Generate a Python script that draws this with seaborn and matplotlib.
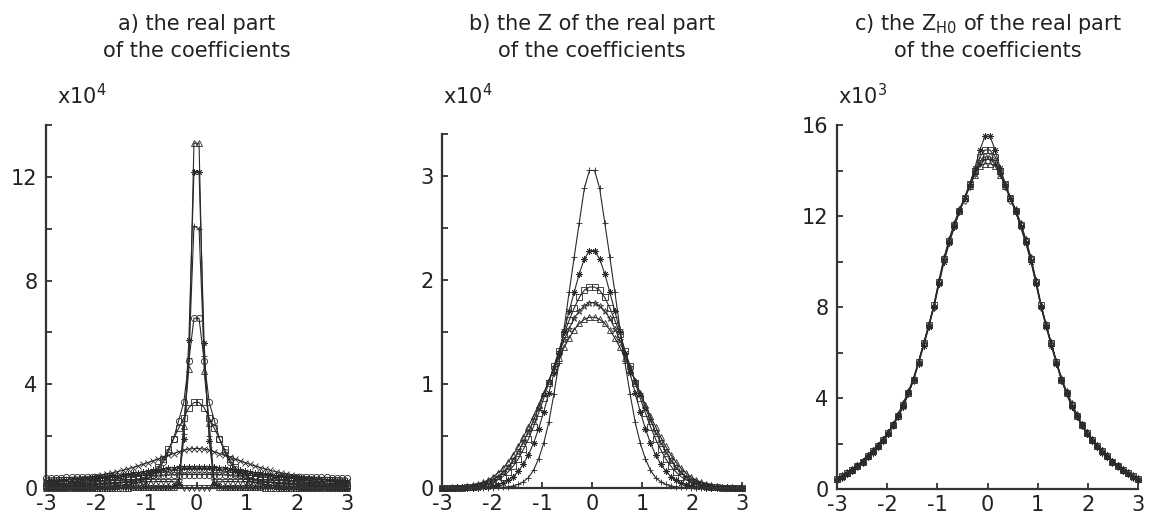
import numpy as np
import matplotlib
matplotlib.use("Agg")
import matplotlib.pyplot as plt
import seaborn as sns

# ---------------- data ----------------
# sample positions (bin centres) shared by every series
x_grid = np.linspace(-3, 3, 60)

# panel a: real part of the coefficients (x10^4)
a_tri = [
    0.00, 0.00, 0.00, 0.01, 0.01, 0.01, 0.01, 0.01, 0.01, 0.01,
    0.01, 0.01, 0.01, 0.01, 0.01, 0.01, 0.01, 0.02, 0.02, 0.02,
    0.02, 0.02, 0.03, 0.03, 0.04, 0.05, 0.11, 2.40, 4.60, 13.3,
    13.3, 4.50, 2.50, 0.12, 0.05, 0.04, 0.03, 0.03, 0.02, 0.02,
    0.02, 0.02, 0.02, 0.01, 0.01, 0.01, 0.01, 0.01, 0.01, 0.01,
    0.01, 0.01, 0.01, 0.01, 0.01, 0.01, 0.01, 0.00, 0.00, 0.00]
a_ast = [
    0.01, 0.01, 0.01, 0.01, 0.01, 0.01, 0.01, 0.01, 0.01, 0.01,
    0.01, 0.01, 0.01, 0.01, 0.02, 0.02, 0.02, 0.02, 0.02, 0.02,
    0.03, 0.03, 0.03, 0.04, 0.05, 0.06, 0.14, 1.90, 5.70, 12.2,
    12.2, 5.60, 1.80, 0.15, 0.06, 0.05, 0.04, 0.03, 0.03, 0.03,
    0.02, 0.02, 0.02, 0.02, 0.02, 0.02, 0.01, 0.01, 0.01, 0.01,
    0.01, 0.01, 0.01, 0.01, 0.01, 0.01, 0.01, 0.01, 0.01, 0.01]
a_plus = [
    0.01, 0.01, 0.01, 0.01, 0.01, 0.01, 0.01, 0.01, 0.01, 0.01,
    0.02, 0.02, 0.02, 0.02, 0.02, 0.02, 0.02, 0.03, 0.03, 0.03,
    0.03, 0.04, 0.04, 0.05, 0.06, 0.08, 0.22, 2.10, 5.00, 10.1,
    10.0, 5.10, 2.00, 0.20, 0.08, 0.06, 0.05, 0.04, 0.04, 0.03,
    0.03, 0.03, 0.03, 0.02, 0.02, 0.02, 0.02, 0.02, 0.02, 0.02,
    0.01, 0.01, 0.01, 0.01, 0.01, 0.01, 0.01, 0.01, 0.01, 0.01]
a_circ = [
    0.03, 0.03, 0.03, 0.04, 0.04, 0.04, 0.04, 0.05, 0.05, 0.05,
    0.06, 0.06, 0.07, 0.08, 0.09, 0.11, 0.13, 0.16, 0.21, 0.28,
    0.38, 0.52, 0.72, 1.00, 1.40, 1.90, 2.60, 3.30, 4.90, 6.55,
    6.55, 4.90, 3.30, 2.60, 1.90, 1.40, 1.00, 0.72, 0.52, 0.38,
    0.28, 0.21, 0.16, 0.13, 0.11, 0.09, 0.08, 0.07, 0.06, 0.06,
    0.05, 0.05, 0.05, 0.04, 0.04, 0.04, 0.04, 0.03, 0.03, 0.03]
a_sq = [
    0.07, 0.08, 0.08, 0.09, 0.09, 0.10, 0.10, 0.11, 0.12, 0.13,
    0.14, 0.15, 0.16, 0.18, 0.20, 0.22, 0.25, 0.29, 0.34, 0.40,
    0.47, 0.60, 0.80, 1.10, 1.50, 1.90, 2.30, 2.70, 3.10, 3.30,
    3.30, 3.10, 2.70, 2.30, 1.90, 1.50, 1.10, 0.80, 0.60, 0.47,
    0.40, 0.34, 0.29, 0.25, 0.22, 0.20, 0.18, 0.16, 0.15, 0.14,
    0.13, 0.12, 0.11, 0.10, 0.10, 0.09, 0.09, 0.08, 0.08, 0.07]
a_x = [
    0.28, 0.29, 0.30, 0.31, 0.32, 0.34, 0.36, 0.38, 0.40, 0.43,
    0.46, 0.50, 0.54, 0.58, 0.63, 0.68, 0.73, 0.79, 0.85, 0.91,
    0.98, 1.05, 1.12, 1.19, 1.26, 1.33, 1.40, 1.46, 1.50, 1.52,
    1.52, 1.50, 1.46, 1.40, 1.33, 1.26, 1.19, 1.12, 1.05, 0.98,
    0.91, 0.85, 0.79, 0.73, 0.68, 0.63, 0.58, 0.54, 0.50, 0.46,
    0.43, 0.40, 0.38, 0.36, 0.34, 0.32, 0.31, 0.30, 0.29, 0.28]
a_star = [
    0.26, 0.27, 0.28, 0.29, 0.30, 0.31, 0.32, 0.34, 0.35, 0.37,
    0.39, 0.41, 0.43, 0.45, 0.47, 0.50, 0.53, 0.56, 0.59, 0.62,
    0.65, 0.68, 0.71, 0.74, 0.76, 0.78, 0.80, 0.81, 0.82, 0.82,
    0.82, 0.82, 0.81, 0.80, 0.78, 0.76, 0.74, 0.71, 0.68, 0.65,
    0.62, 0.59, 0.56, 0.53, 0.50, 0.47, 0.45, 0.43, 0.41, 0.39,
    0.37, 0.35, 0.34, 0.32, 0.31, 0.30, 0.29, 0.28, 0.27, 0.26]
a_diam = [
    0.14, 0.15, 0.16, 0.17, 0.18, 0.19, 0.20, 0.22, 0.23, 0.25,
    0.27, 0.29, 0.31, 0.33, 0.36, 0.38, 0.41, 0.44, 0.47, 0.50,
    0.53, 0.56, 0.59, 0.62, 0.65, 0.67, 0.69, 0.71, 0.72, 0.72,
    0.72, 0.72, 0.71, 0.69, 0.67, 0.65, 0.62, 0.59, 0.56, 0.53,
    0.50, 0.47, 0.44, 0.41, 0.38, 0.36, 0.33, 0.31, 0.29, 0.27,
    0.25, 0.23, 0.22, 0.20, 0.19, 0.18, 0.17, 0.16, 0.15, 0.14]
a_flat = [
    0.38, 0.39, 0.40, 0.40, 0.41, 0.41, 0.42, 0.42, 0.43, 0.43,
    0.44, 0.44, 0.45, 0.45, 0.46, 0.46, 0.47, 0.47, 0.48, 0.48,
    0.49, 0.49, 0.50, 0.50, 0.50, 0.51, 0.51, 0.52, 0.52, 0.52,
    0.52, 0.52, 0.52, 0.51, 0.51, 0.50, 0.50, 0.50, 0.49, 0.49,
    0.48, 0.48, 0.47, 0.47, 0.46, 0.46, 0.45, 0.45, 0.44, 0.44,
    0.43, 0.43, 0.42, 0.42, 0.41, 0.41, 0.40, 0.40, 0.39, 0.38]
a_hole = [
    0.14, 0.14, 0.15, 0.15, 0.16, 0.16, 0.17, 0.17, 0.18, 0.18,
    0.19, 0.19, 0.20, 0.20, 0.21, 0.21, 0.22, 0.22, 0.23, 0.23,
    0.24, 0.24, 0.25, 0.25, 0.25, 0.24, 0.22, 0.01, 0.00, 0.00,
    0.00, 0.00, 0.01, 0.22, 0.24, 0.25, 0.25, 0.25, 0.24, 0.24,
    0.23, 0.23, 0.22, 0.22, 0.21, 0.21, 0.20, 0.20, 0.19, 0.19,
    0.18, 0.18, 0.17, 0.17, 0.16, 0.16, 0.15, 0.15, 0.14, 0.14]

# panel b: Z of the real part (x10^4)
b_plus = [
    0.000, 0.000, 0.000, 0.000, 0.000, 0.001, 0.001, 0.001, 0.002, 0.002,
    0.003, 0.005, 0.008, 0.012, 0.020, 0.035, 0.060, 0.100, 0.170, 0.280,
    0.430, 0.630, 0.900, 1.200, 1.530, 1.880, 2.220, 2.550, 2.880, 3.050,
    3.050, 2.880, 2.550, 2.220, 1.880, 1.530, 1.200, 0.900, 0.630, 0.430,
    0.280, 0.170, 0.100, 0.060, 0.035, 0.020, 0.012, 0.008, 0.005, 0.003,
    0.002, 0.002, 0.001, 0.001, 0.001, 0.000, 0.000, 0.000, 0.000, 0.000]
b_ast = [
    0.000, 0.000, 0.000, 0.000, 0.001, 0.001, 0.002, 0.004, 0.007, 0.012,
    0.019, 0.031, 0.049, 0.075, 0.110, 0.160, 0.230, 0.320, 0.430, 0.570,
    0.730, 0.910, 1.100, 1.300, 1.500, 1.700, 1.880, 2.060, 2.200, 2.280,
    2.280, 2.200, 2.060, 1.880, 1.700, 1.500, 1.300, 1.100, 0.910, 0.730,
    0.570, 0.430, 0.320, 0.230, 0.160, 0.110, 0.075, 0.049, 0.031, 0.019,
    0.012, 0.007, 0.004, 0.002, 0.001, 0.001, 0.000, 0.000, 0.000, 0.000]
b_sq = [
    0.001, 0.001, 0.002, 0.003, 0.004, 0.006, 0.010, 0.016, 0.025, 0.037,
    0.054, 0.078, 0.110, 0.155, 0.210, 0.280, 0.370, 0.470, 0.590, 0.720,
    0.860, 1.010, 1.170, 1.320, 1.480, 1.610, 1.730, 1.830, 1.900, 1.930,
    1.930, 1.900, 1.830, 1.730, 1.610, 1.480, 1.320, 1.170, 1.010, 0.860,
    0.720, 0.590, 0.470, 0.370, 0.280, 0.210, 0.155, 0.110, 0.078, 0.054,
    0.037, 0.025, 0.016, 0.010, 0.006, 0.004, 0.003, 0.002, 0.001, 0.001]
b_star = [
    0.001, 0.002, 0.003, 0.005, 0.007, 0.011, 0.017, 0.026, 0.038, 0.055,
    0.080, 0.110, 0.150, 0.200, 0.270, 0.350, 0.440, 0.540, 0.650, 0.770,
    0.900, 1.030, 1.160, 1.290, 1.420, 1.530, 1.630, 1.700, 1.750, 1.780,
    1.780, 1.750, 1.700, 1.630, 1.530, 1.420, 1.290, 1.160, 1.030, 0.900,
    0.770, 0.650, 0.540, 0.440, 0.350, 0.270, 0.200, 0.150, 0.110, 0.080,
    0.055, 0.038, 0.026, 0.017, 0.011, 0.007, 0.005, 0.003, 0.002, 0.001]
b_tri = [
    0.002, 0.003, 0.005, 0.007, 0.011, 0.017, 0.025, 0.037, 0.053, 0.075,
    0.105, 0.145, 0.190, 0.250, 0.320, 0.400, 0.490, 0.590, 0.690, 0.800,
    0.910, 1.030, 1.140, 1.250, 1.350, 1.440, 1.520, 1.580, 1.620, 1.640,
    1.640, 1.620, 1.580, 1.520, 1.440, 1.350, 1.250, 1.140, 1.030, 0.910,
    0.800, 0.690, 0.590, 0.490, 0.400, 0.320, 0.250, 0.190, 0.145, 0.105,
    0.075, 0.053, 0.037, 0.025, 0.017, 0.011, 0.007, 0.005, 0.003, 0.002]

# panel c: Z_H0 of the real part (x10^3)
c_ast = [
    0.40, 0.50, 0.65, 0.80, 1.00, 1.20, 1.40, 1.60, 1.85, 2.10,
    2.40, 2.80, 3.20, 3.60, 4.20, 4.80, 5.50, 6.30, 7.10, 8.00,
    9.00, 10.0, 10.8, 11.5, 12.2, 12.8, 13.4, 14.1, 14.9, 15.5,
    15.5, 14.9, 14.1, 13.4, 12.8, 12.2, 11.5, 10.8, 10.0, 9.00,
    8.00, 7.10, 6.30, 5.50, 4.80, 4.20, 3.60, 3.20, 2.80, 2.40,
    2.10, 1.85, 1.60, 1.40, 1.20, 1.00, 0.80, 0.65, 0.50, 0.40]
c_sq = [
    0.45, 0.55, 0.70, 0.85, 1.00, 1.20, 1.45, 1.65, 1.90, 2.15,
    2.45, 2.80, 3.20, 3.70, 4.20, 4.80, 5.60, 6.40, 7.20, 8.10,
    9.10, 10.1, 10.9, 11.6, 12.2, 12.8, 13.4, 14.0, 14.6, 14.9,
    14.9, 14.6, 14.0, 13.4, 12.8, 12.2, 11.6, 10.9, 10.1, 9.10,
    8.10, 7.20, 6.40, 5.60, 4.80, 4.20, 3.70, 3.20, 2.80, 2.45,
    2.15, 1.90, 1.65, 1.45, 1.20, 1.00, 0.85, 0.70, 0.55, 0.45]
c_tri = [
    0.46, 0.58, 0.72, 0.90, 1.05, 1.25, 1.50, 1.70, 1.95, 2.20,
    2.50, 2.85, 3.30, 3.80, 4.30, 4.90, 5.60, 6.40, 7.20, 8.10,
    9.20, 10.2, 11.0, 11.7, 12.3, 12.8, 13.3, 13.8, 14.2, 14.3,
    14.3, 14.2, 13.8, 13.3, 12.8, 12.3, 11.7, 11.0, 10.2, 9.20,
    8.10, 7.20, 6.40, 5.60, 4.90, 4.30, 3.80, 3.30, 2.85, 2.50,
    2.20, 1.95, 1.70, 1.50, 1.25, 1.05, 0.90, 0.72, 0.58, 0.46]
c_diam = [
    0.43, 0.55, 0.70, 0.85, 1.00, 1.20, 1.45, 1.65, 1.90, 2.15,
    2.45, 2.80, 3.20, 3.70, 4.20, 4.80, 5.60, 6.40, 7.20, 8.00,
    9.10, 10.1, 10.9, 11.6, 12.2, 12.7, 13.3, 13.9, 14.4, 14.6,
    14.6, 14.4, 13.9, 13.3, 12.7, 12.2, 11.6, 10.9, 10.1, 9.10,
    8.00, 7.20, 6.40, 5.60, 4.80, 4.20, 3.70, 3.20, 2.80, 2.45,
    2.15, 1.90, 1.65, 1.45, 1.20, 1.00, 0.85, 0.70, 0.55, 0.43]
c_plus = [
    0.44, 0.55, 0.70, 0.85, 1.00, 1.20, 1.45, 1.65, 1.90, 2.15,
    2.45, 2.80, 3.20, 3.70, 4.20, 4.80, 5.60, 6.40, 7.20, 8.05,
    9.10, 10.1, 10.9, 11.6, 12.2, 12.8, 13.3, 13.9, 14.3, 14.5,
    14.5, 14.3, 13.9, 13.3, 12.8, 12.2, 11.6, 10.9, 10.1, 9.10,
    8.05, 7.20, 6.40, 5.60, 4.80, 4.20, 3.70, 3.20, 2.80, 2.45,
    2.15, 1.90, 1.65, 1.45, 1.20, 1.00, 0.85, 0.70, 0.55, 0.44]

x_ticks = [-3, -2, -1, 0, 1, 2, 3]
a_yticks = [0, 4, 8, 12]
b_yticks = [0, 1, 2, 3]
c_yticks = [0, 4, 8, 12, 16]

titles = [
    ("a) the real part", "of the coefficients"),
    ("b) the Z of the real part", "of the coefficients"),
    (r"c) the Z$_{\mathregular{H0}}$ of the real part", "of the coefficients"),
]
exponents = [r"x10$^{4}$", r"x10$^{4}$", r"x10$^{3}$"]

# ---------------- style ----------------
sns.set_theme(style="ticks")
plt.rcParams["font.family"] = ["DejaVu Sans"]
plt.rcParams["axes.unicode_minus"] = False
plt.rcParams["mathtext.fontset"] = "dejavusans"

LINE = "#2a2a2a"
SPINE = "#333333"
TEXT = "#222222"

W, H = 1154, 519
fig = plt.figure(figsize=(W / 100, H / 100), dpi=100)
fig.patch.set_facecolor("white")


def px_axes(left, right, top, bottom):
    return fig.add_axes([left / W, 1 - bottom / H, (right - left) / W, (bottom - top) / H])


ax_a = px_axes(46, 347, 125, 488)
ax_b = px_axes(442, 742, 134, 488)
ax_c = px_axes(837, 1138, 125, 489)

panels = [
    (ax_a, [(a_tri, "^"), (a_ast, (8, 2, 0)), (a_plus, "+"), (a_circ, "o"),
            (a_sq, "s"), (a_x, "x"), (a_star, (6, 2, 0)), (a_diam, "d"),
            (a_flat, "o"), (a_hole, "v")],
     (0, 14), a_yticks, [2, 6, 10, 14]),
    (ax_b, [(b_plus, "+"), (b_ast, (8, 2, 0)), (b_sq, "s"), (b_star, "*"),
            (b_tri, "^")],
     (0, 3.4), b_yticks, [0.5, 1.5, 2.5, 3.4]),
    (ax_c, [(c_ast, (8, 2, 0)), (c_sq, "s"), (c_tri, "^"), (c_diam, "d"),
            (c_plus, "+")],
     (0, 16), c_yticks, [2, 6, 10, 14]),
]

for ax, series, ylim, yt, yminor in panels:
    for vals, mk in series:
        sns.lineplot(x=x_grid, y=np.asarray(vals, dtype=float), ax=ax,
                     color=LINE, linewidth=0.8, marker=mk, markersize=4.5,
                     markeredgewidth=0.6, markerfacecolor="none",
                     markeredgecolor=LINE, errorbar=None, sort=False,
                     legend=False, clip_on=False)
    ax.set_xlim(-3, 3)
    ax.set_ylim(*ylim)
    ax.set_xticks(x_ticks)
    ax.set_xticklabels([str(t) for t in x_ticks])
    ax.set_yticks(yt)
    ax.set_yticklabels([str(t) for t in yt])
    ax.set_yticks(yminor, minor=True)
    ax.set_xlabel("")
    ax.set_ylabel("")
    sns.despine(ax=ax)
    for s in ("left", "bottom"):
        ax.spines[s].set_linewidth(1.6)
        ax.spines[s].set_color(SPINE)
    ax.tick_params(axis="both", which="both", direction="in", length=4,
                   width=1.3, color=SPINE, labelsize=15, labelcolor=TEXT)
    ax.tick_params(axis="y", pad=6)
    ax.tick_params(axis="x", pad=4)
    ax.set_facecolor("white")

# titles and exponent labels
for ax, (l1, l2), ex, ex_x in zip([ax_a, ax_b, ax_c], titles, exponents, [57, 443, 838]):
    bb = ax.get_position()
    cx = bb.x0 + bb.width / 2
    fig.text(cx, 1 - 30 / H, l1, ha="center", va="baseline", fontsize=15, color=TEXT)
    fig.text(cx, 1 - 57 / H, l2, ha="center", va="baseline", fontsize=15, color=TEXT)
    fig.text(ex_x / W, 1 - 104 / H, ex, ha="left", va="baseline", fontsize=15, color=TEXT)

fig.savefig("out.png", dpi=100, facecolor="white")
